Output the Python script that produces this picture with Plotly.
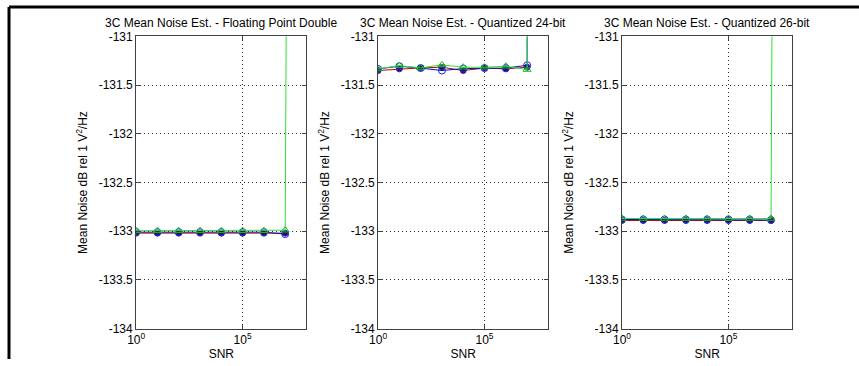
import plotly.graph_objects as go

W, H = 859, 366
# the page is photographed with the default 8px body margin and fitted into the window,
# so place elements by pre-compensating that offset and scale
SX, SY, OFF = 859 / 875, 366 / 382, 8


def px(X):
    return (X / SX - OFF) / W


def py(Y):
    return 1 - (Y / SY - OFF) / H


snr = [1e0, 1e1, 1e2, 1e3, 1e4, 1e5, 1e6, 1e7, 1e8]

titles = ["3C Mean Noise Est. - Floating Point Double",
          "3C Mean Noise Est. - Quantized 24-bit",
          "3C Mean Noise Est. - Quantized 26-bit"]

# panel 1 (floating point double)
p1_blue = [-133.01, -133.01, -133.01, -133.01, -133.01, -133.01, -133.01, -133.03, None]
p1_green = [-132.995, -132.995, -132.995, -132.995, -132.995, -132.995, -132.995, -132.99, -89.0]
p1_red = [-133.02, -133.02, -133.02, -133.02, -133.02, -133.02, -133.02, -133.02, None]

# panel 2 (quantized 24-bit)
p2_blue = [-131.333, -131.306, -131.325, -131.35, -131.33, -131.325, -131.325, -131.296, -60.0]
p2_green = [-131.333, -131.30, -131.323, -131.292, -131.316, -131.316, -131.306, -131.34, -60.0]
p2_red = [-131.35, -131.333, -131.323, -131.316, -131.35, -131.325, -131.333, -131.316, None]

# panel 3 (quantized 26-bit)
p3_blue = [-132.88, -132.88, -132.88, -132.88, -132.88, -132.88, -132.88, -132.885, None]
p3_green = [-132.87, -132.87, -132.87, -132.87, -132.87, -132.87, -132.87, -132.87, -89.0]
p3_red = [-132.89, -132.89, -132.89, -132.89, -132.89, -132.89, -132.89, -132.89, None]

panels = [(p1_red, p1_blue, p1_green), (p2_red, p2_blue, p2_green), (p3_red, p3_blue, p3_green)]

ytick_vals = [-134, -133.5, -133, -132.5, -132, -131.5, -131]
ytick_text = ["-134", "-133.5", "-133", "-132.5", "-132", "-131.5", "-131"]
xtick_vals = [1e0, 1e5]
xtick_text = ["10<sup>0</sup>", "10<sup>5</sup>"]

lefts = [134, 374, 616]
pw = 169
top, bottom = 37, 328

fig = go.Figure()
FONT = "Liberation Sans, Arial, sans-serif"

for i, (red, blue, green) in enumerate(panels):
    xa = "x" if i == 0 else f"x{i+1}"
    ya = "y" if i == 0 else f"y{i+1}"
    fig.add_trace(go.Scatter(x=snr, y=red, mode="lines+markers", xaxis=xa, yaxis=ya,
                             line=dict(color="#c80000", width=1),
                             marker=dict(symbol="circle", size=6, color="#301040",
                                         line=dict(color="#5020a0", width=1)),
                             showlegend=False, cliponaxis=True))
    fig.add_trace(go.Scatter(x=snr, y=blue, mode="lines+markers", xaxis=xa, yaxis=ya,
                             line=dict(color="#0010c0", width=1),
                             marker=dict(symbol="circle-open", size=7, color="#2020ff", line=dict(width=1)),
                             showlegend=False, cliponaxis=True))
    fig.add_trace(go.Scatter(x=snr, y=green, mode="lines+markers", xaxis=xa, yaxis=ya,
                             line=dict(color="#30e030", width=1),
                             marker=dict(symbol="triangle-up-open", size=7, color="#10c010", line=dict(width=1)),
                             showlegend=False, cliponaxis=True))

    x0 = px(lefts[i])
    x1 = px(lefts[i] + pw)
    axis_common = dict(showline=True, linecolor="#404040", linewidth=1, mirror="ticks",
                       ticks="inside", ticklen=4, tickcolor="#404040",
                       showgrid=True, gridcolor="#303030", griddash="1px,3px", gridwidth=1,
                       zeroline=False, tickfont=dict(family=FONT, size=12, color="#000"))
    xkey = "xaxis" if i == 0 else f"xaxis{i+1}"
    ykey = "yaxis" if i == 0 else f"yaxis{i+1}"
    fig.update_layout(**{
        xkey: dict(axis_common, type="log", range=[0, 8], domain=[x0, x1], anchor=ya,
                   tickvals=xtick_vals, ticktext=xtick_text,
                   title=dict(text="SNR", font=dict(family=FONT, size=12, color="#000"), standoff=1)),
        ykey: dict(axis_common, range=[-134, -131], domain=[py(bottom), py(top)], anchor=xa,
                   tickvals=ytick_vals, ticktext=ytick_text,
                   title=dict(text="Mean Noise dB rel 1 V<sup>2</sup>/Hz",
                              font=dict(family=FONT, size=12, color="#000"), standoff=8)),
    })
    fig.add_annotation(text=titles[i], x=(x0 + x1) / 2, y=py(24), xref="paper", yref="paper",
                       showarrow=False, xanchor="center", yanchor="middle",
                       font=dict(family=FONT, size=12, color="#000"))

# outer black frame (top and left edges)
fig.add_shape(type="line", xref="paper", yref="paper", x0=0, x1=1, y0=1, y1=1,
              line=dict(color="#000", width=3))
fig.add_shape(type="line", xref="paper", yref="paper", x0=0, x1=0, y0=0, y1=1,
              line=dict(color="#000", width=3))

fig.update_layout(width=W, height=H, margin=dict(l=0, r=0, t=0, b=0),
                  paper_bgcolor="white", plot_bgcolor="white", showlegend=False)

fig.write_html("out.html")
